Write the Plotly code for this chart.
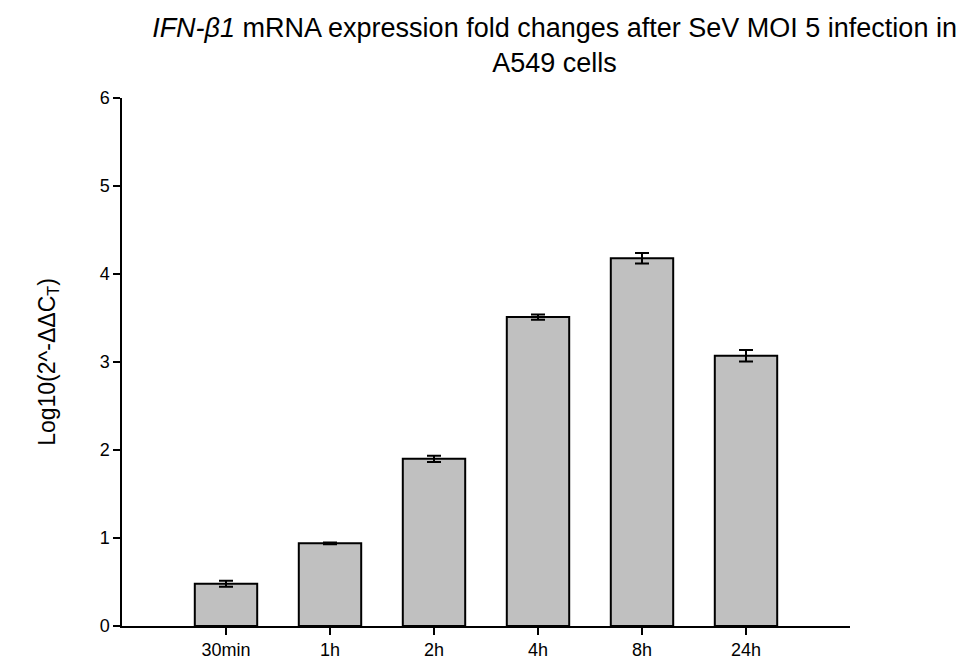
import plotly.graph_objects as go

categories = ["30min", "1h", "2h", "4h", "8h", "24h"]
values = [0.48, 0.94, 1.90, 3.51, 4.18, 3.07]
errors = [0.035, 0.01, 0.035, 0.03, 0.06, 0.065]
y_ticks = [0, 1, 2, 3, 4, 5, 6]

fig = go.Figure()
fig.add_trace(go.Bar(
    x=categories, y=values, width=0.6,
    marker=dict(color="#c0c0c0", line=dict(color="black", width=2)),
    error_y=dict(type="data", array=errors, visible=True, color="black", thickness=2, width=7),
))

font_family = "Liberation Sans, Arial, sans-serif"
fig.update_layout(
    width=978, height=668,
    margin=dict(l=122, r=128, t=98, b=42, autoexpand=False),
    paper_bgcolor="white", plot_bgcolor="white",
    font=dict(family=font_family, color="black"),
    showlegend=False,
    title=dict(
        text="<i>IFN-β1</i> mRNA expression fold changes after SeV MOI 5 infection in<br>A549 cells",
        x=0.567, xanchor="center", xref="container",
        y=0.945, yanchor="top",
        font=dict(size=27, family=font_family, color="black"),
    ),
    xaxis=dict(
        range=[-1.0, 6.0], showline=True, linecolor="black", linewidth=1.5,
        ticks="outside", ticklen=7, tickwidth=1.5, tickcolor="black",
        tickfont=dict(size=18), showgrid=False, zeroline=False, automargin=False,
    ),
    yaxis=dict(
        range=[0, 6], tickvals=y_ticks, showline=True, linecolor="black", linewidth=1.5,
        ticks="outside", ticklen=7, tickwidth=1.5, tickcolor="black",
        tickfont=dict(size=18), showgrid=False, zeroline=False, automargin=False,
        title=dict(text="Log10(2^-ΔΔC<sub>T</sub>)", font=dict(size=23), standoff=38),
    ),
)

fig.write_html("out.html")
